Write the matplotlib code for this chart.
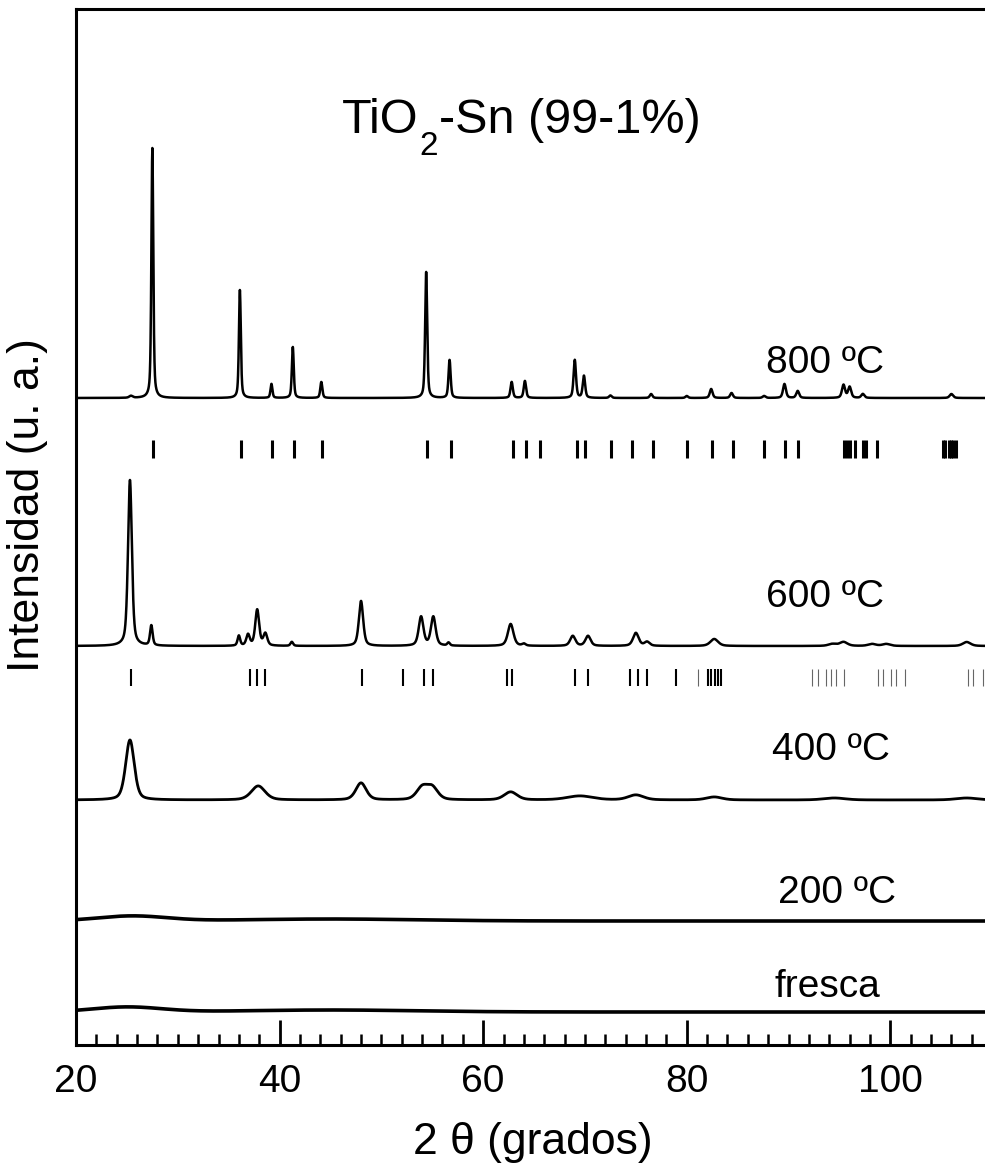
import numpy as np
import matplotlib
matplotlib.use("Agg")
import matplotlib.pyplot as plt
from matplotlib.ticker import MultipleLocator

plt.rcParams['font.family'] = ['Liberation Sans', 'DejaVu Sans']

# peak lists: position (2 theta), height, FWHM
pos_800 = [25.4, 27.5, 36.1, 39.2, 41.3, 44.1, 54.4, 56.7, 62.8, 64.1, 69.0, 69.9,
           72.5, 76.5, 80.0, 82.4, 84.4, 87.6, 89.6, 90.9, 95.4, 96.0, 97.3, 106.0]
h_800 = [2, 250, 108, 14, 51, 16, 126, 38, 16, 17, 38, 22,
         2.5, 4, 2, 9, 5, 2, 14, 7, 13, 11, 4, 4]
w_800 = [0.4, 0.22, 0.22, 0.22, 0.22, 0.24, 0.24, 0.25, 0.27, 0.27, 0.28, 0.28,
         0.3, 0.3, 0.3, 0.32, 0.32, 0.34, 0.34, 0.34, 0.36, 0.36, 0.36, 0.4]

pos_600 = [25.3, 27.4, 36.0, 36.9, 37.8, 38.6, 41.2, 48.0, 53.9, 55.1, 56.6, 62.7,
           64.0, 68.8, 70.3, 75.0, 76.1, 82.7, 94.3, 95.4, 98.2, 99.6, 107.5]
h_600 = [166, 20, 10, 11, 36, 12, 4, 45, 29, 29, 3, 22,
         2, 10, 10, 13, 4, 7, 2, 4, 2, 2, 4]
w_600 = [0.45, 0.3, 0.3, 0.4, 0.45, 0.45, 0.3, 0.5, 0.55, 0.55, 0.3, 0.65,
         0.4, 0.6, 0.6, 0.65, 0.6, 0.9, 0.9, 0.9, 0.9, 0.9, 0.9]

pos_400 = [25.3, 37.9, 48.0, 54.0, 55.0, 62.7, 69.5, 75.0, 82.7, 94.5, 107.5]
h_400 = [60, 14, 17, 12, 12, 8, 4, 5, 3, 2, 2]
w_400 = [1.0, 1.6, 1.2, 1.3, 1.3, 1.5, 3.0, 1.8, 1.8, 2.5, 2.5]

pos_200 = [25.5, 45.0]
h_200 = [5, 2]
w_200 = [8, 20]

pos_fresca = [25.0, 45.0]
h_fresca = [5, 2]
w_fresca = [8, 20]

# reference patterns (tick marks)
rutile_ticks = [27.6, 36.2, 39.3, 41.4, 44.2, 54.5, 56.8, 62.9, 64.2, 65.6, 69.2, 70.0,
                72.6, 74.6, 76.7, 80.0, 82.5, 84.5, 87.6, 89.7, 90.9, 95.4, 95.7, 96.0,
                96.5, 97.3, 97.6, 98.7, 105.2, 105.4, 105.8, 106.0, 106.2, 106.5]
anatase_ticks = [25.4, 37.1, 37.8, 38.6, 48.1, 52.1, 54.2, 55.1, 62.3, 62.8, 69.0, 70.3,
                 74.4, 75.2, 76.1, 78.9, 82.1, 82.4, 82.8, 83.1, 83.4]
anatase_weak = [81.1, 92.3, 92.9, 93.7, 94.2, 94.7, 95.4, 98.8, 99.3, 100.1, 100.6,
                101.4, 107.6, 108.1, 109.1]

labels = ['800 ºC', '600 ºC', '400 ºC', '200 ºC', 'fresca']
offsets = [647, 399, 245, 124, 33]


def profile(x, pos, h, w, eta):
    y = np.zeros_like(x)
    for p, a, fw in zip(pos, h, w):
        g = np.exp(-4 * np.log(2) * ((x - p) / fw) ** 2)
        l = 1 / (1 + (2 * (x - p) / fw) ** 2)
        y += a * (eta * l + (1 - eta) * g)
    return y


x = np.linspace(20, 110, 6000)
curves = [
    profile(x, pos_800, h_800, w_800, 0.5),
    profile(x, pos_600, h_600, w_600, 0.5),
    profile(x, pos_400, h_400, w_400, 0.4),
    profile(x, pos_200, h_200, w_200, 0.0),
    profile(x, pos_fresca, h_fresca, w_fresca, 0.0),
]
lws = [1.8, 1.8, 2.0, 2.6, 2.6]

fig = plt.figure(figsize=(9.85, 11.7), dpi=100)
ax = fig.add_axes([76 / 985, 125 / 1170, 909 / 985, 1036 / 1170])

for c, off, lw in zip(curves, offsets, lws):
    ax.plot(x, c + off, color='black', lw=lw)

ax.vlines(rutile_ticks, 587, 605, color='black', lw=2.2)
ax.vlines(anatase_ticks, 359, 376, color='black', lw=1.5)
ax.vlines(anatase_weak, 359, 376, color='0.4', lw=0.8)

# sample labels
lab_x = [93.6, 93.6, 94.2, 94.8, 93.8]
lab_y = [672, 438, 285, 142, 48]
for t, lx, ly in zip(labels, lab_x, lab_y):
    ax.text(lx, ly, t, ha='center', va='baseline', fontsize=28)

ax.set_xlim(20, 109.3)
ax.set_ylim(0, 1036)
ax.set_xticks([20, 40, 60, 80, 100])
ax.xaxis.set_minor_locator(MultipleLocator(2))
ax.set_yticks([])
ax.tick_params(axis='x', which='major', direction='in', length=18, width=2,
               labelsize=28, pad=14)
ax.tick_params(axis='x', which='minor', direction='in', length=8, width=1.8)
for s in ['left', 'bottom', 'top']:
    ax.spines[s].set_linewidth(2.2)
ax.spines['right'].set_visible(False)

ax.set_xlabel('2 θ (grados)', fontsize=32)
ax.xaxis.set_label_coords(0.502, -0.074)
fig.text(28 / 985, 1 - 505 / 1170, 'Intensidad (u. a.)', rotation=90,
         ha='center', va='center', fontsize=32)

# title with a low subscript, built from three pieces
t1 = ax.text(50, 912, 'TiO', fontsize=35, ha='left', va='baseline')
t2 = ax.annotate('2', xy=(1, 0), xycoords=t1, xytext=(1, -12),
                 textcoords='offset pixels', fontsize=24, ha='left', va='baseline')
t3 = ax.annotate('-Sn (99-1%)', xy=(1, 0), xycoords=(t2, t1), xytext=(1, 0),
                 textcoords='offset pixels', fontsize=35, ha='left', va='bottom')
fig.canvas.draw()
r = fig.canvas.get_renderer()
left = t1.get_window_extent(r).x0
right = t3.get_window_extent(r).x1
shift = 521.5 - (left + right) / 2
x_new = ax.transData.inverted().transform((left + shift, 0))[0]
t1.set_x(x_new)

fig.savefig('out.png', dpi=100)
